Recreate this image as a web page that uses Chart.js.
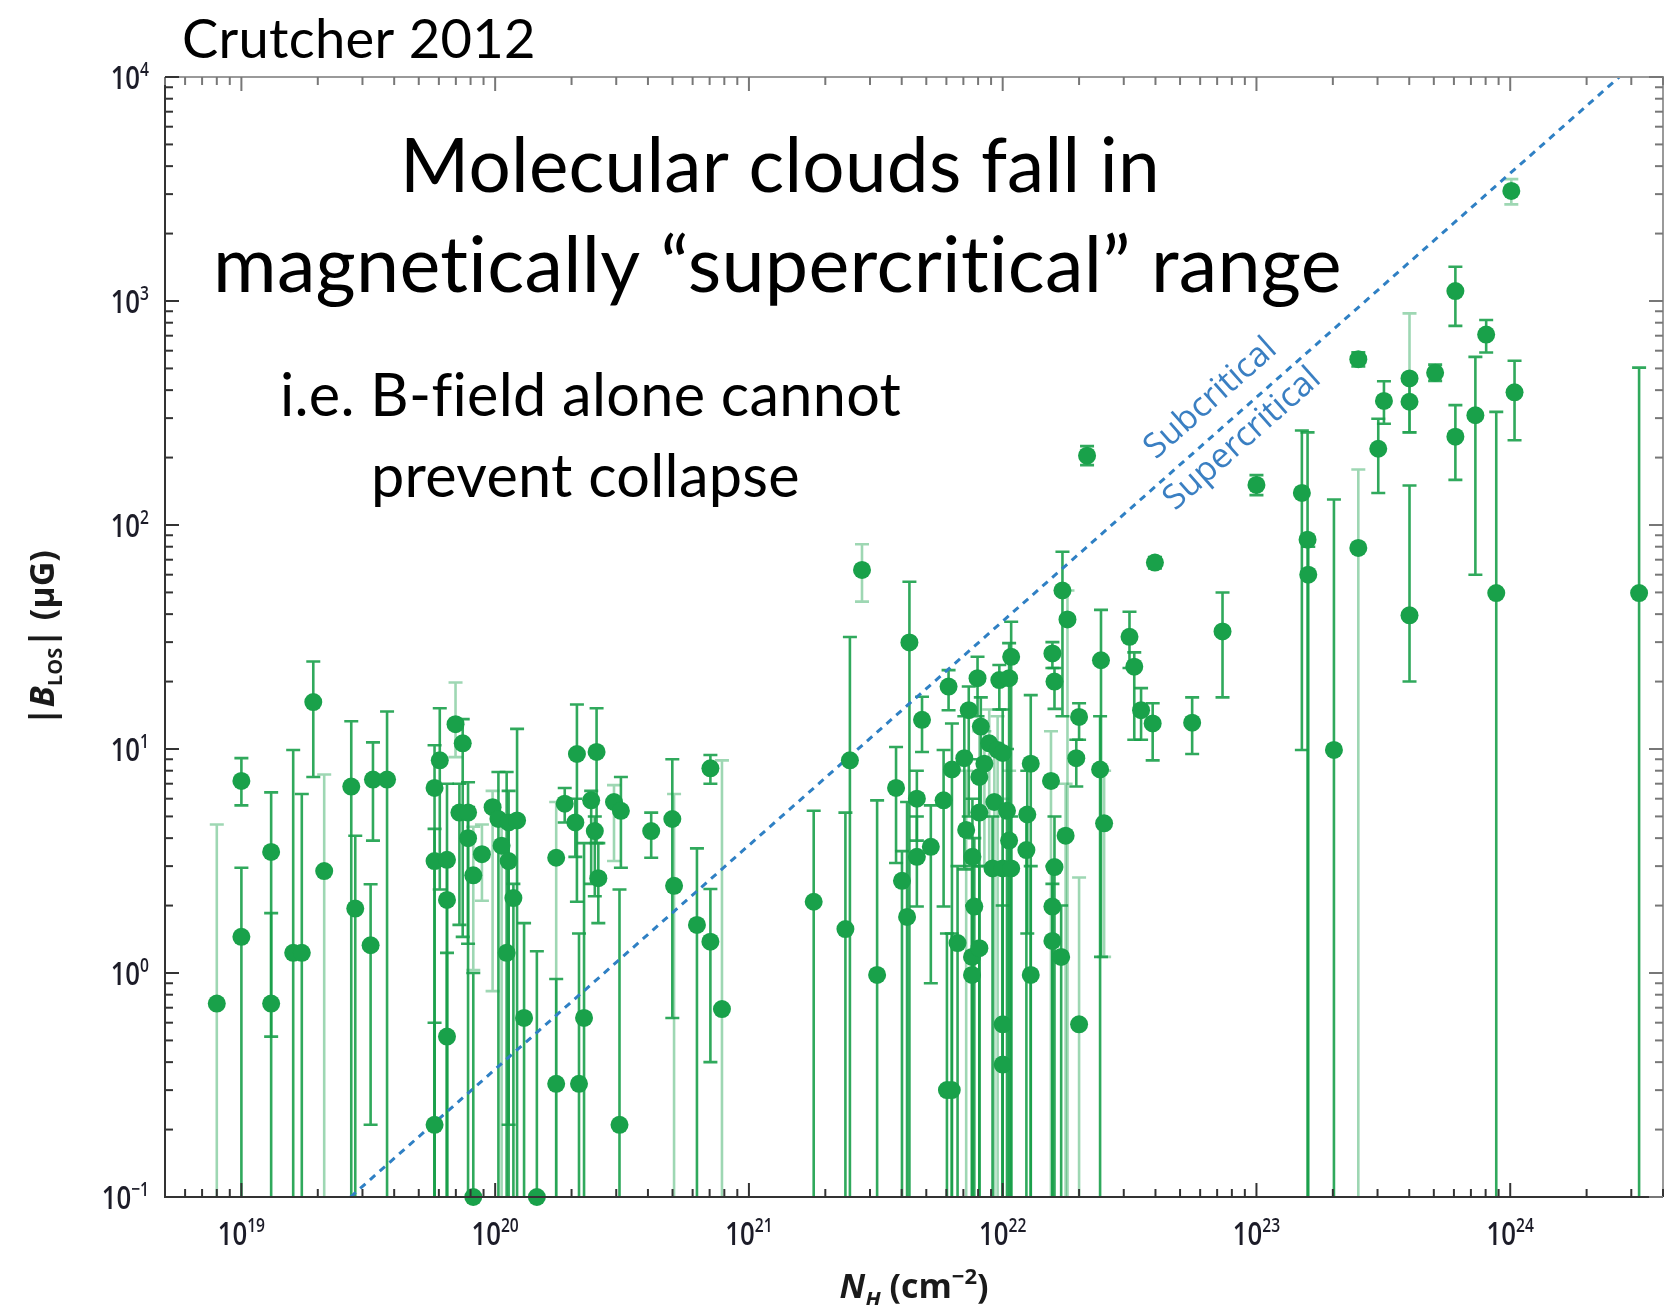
<!DOCTYPE html>
<html>
<head>
<meta charset="utf-8">
<script src="https://cdn.jsdelivr.net/npm/chart.js@4.4.0/dist/chart.umd.min.js"></script>
<style>
  html, body { margin: 0; padding: 0; background: #fff; }
  canvas { display: block; }
</style>
</head>
<body>
<canvas id="fieldChart" width="1673" height="1305"></canvas>
<script>
// Zeeman |B_LOS| against column density N_H, with the critical mass-to-flux line.

// N_H (cm^-2)
const columnDensity = [
  8.0e18, 1.0e19, 1.0e19, 1.31e19, 1.31e19, 1.6e19, 1.73e19, 1.92e19, 2.12e19, 2.71e19,
  2.81e19, 3.30e19, 3.75e19, 3.23e19, 5.77e19, 5.77e19, 6.05e19, 5.77e19, 6.46e19, 6.46e19,
  6.46e19, 6.98e19, 7.45e19, 7.23e19, 7.82e19, 7.82e19, 8.2e19, 8.87e19, 8.2e19, 9.77e19,
  1.03e20, 1.13e20, 1.22e20, 1.06e20, 1.13e20, 1.18e20, 1.11e20, 1.30e20, 1.46e20, 1.74e20,
  1.74e20, 1.88e20, 2.10e20, 2.07e20, 2.14e20, 2.24e20, 2.39e20, 2.47e20, 2.51e20, 2.55e20,
  2.94e20, 3.13e20, 3.09e20, 4.12e20, 4.99e20, 5.07e20, 6.24e20, 7.05e20, 7.05e20, 7.83e20,
  1.80e21, 2.50e21, 2.40e21, 2.79e21, 3.20e21, 4.29e21, 3.80e21, 4.01e21, 4.20e21, 4.59e21,
  4.59e21, 4.81e21, 5.21e21, 5.85e21, 6.12e21, 6.31e21, 6.64e21, 7.06e21, 7.35e21, 7.18e21,
  7.60e21, 7.57e21, 7.57e21, 7.73e21, 8.09e21, 7.96e21, 8.09e21, 8.09e21, 8.20e21, 8.47e21,
  8.85e21, 9.27e21, 9.12e21, 9.70e21, 1.0e22, 9.55e21, 1.0e22, 1.08e22, 1.06e22, 1.04e22,
  1.06e22, 1.08e22, 1.24e22, 1.25e22, 1.29e22, 1.29e22, 1.57e22, 1.60e22, 1.55e22, 1.60e22,
  1.57e22, 1.57e22, 1.70e22, 1.72e22, 1.80e22, 1.77e22, 2.00e22, 1.95e22, 2.00e22, 2.15e22,
  2.44e22, 2.42e22, 2.51e22, 3.16e22, 3.30e22, 3.51e22, 3.90e22, 3.98e22, 5.58e22, 7.35e22,
  1.0e23, 1.51e23, 1.59e23, 1.60e23, 2.02e23, 2.52e23, 2.52e23, 3.02e23, 3.18e23, 4.01e23,
  4.01e23, 4.01e23, 5.06e23, 6.08e23, 6.08e23, 7.29e23, 8.04e23, 8.81e23, 1.04e24, 1.01e24,
  3.22e24, 1.0e22, 1.0e22, 6.03e21, 6.3e21
];
// |B_LOS| (μG)
const fieldLOS = [
  0.73, 7.2, 1.45, 3.47, 0.73, 1.23, 1.23, 16.2, 2.85, 6.8,
  1.94, 7.3, 7.3, 1.33, 0.21, 6.7, 8.9, 3.16, 3.2, 2.12,
  0.52, 12.9, 10.6, 5.2, 5.2, 4.0, 2.73, 3.39, 0.1, 5.5,
  4.87, 4.7, 4.8, 3.7, 3.16, 2.16, 1.23, 0.63, 0.1, 3.27,
  0.32, 5.7, 9.5, 4.7, 0.32, 0.63, 5.9, 4.3, 9.7, 2.65,
  5.8, 5.3, 0.21, 4.3, 4.87, 2.45, 1.64, 8.2, 1.38, 0.69,
  2.08, 8.9, 1.57, 63, 0.98, 29.9, 6.7, 2.58, 1.78, 6.0,
  3.3, 13.5, 3.66, 5.9, 19, 8.1, 1.36, 9.1, 14.9, 4.35,
  3.3, 1.18, 0.98, 1.98, 1.29, 20.7, 7.5, 5.2, 12.6, 8.6,
  10.6, 5.8, 2.93, 20.3, 2.93, 9.9, 9.6, 2.93, 20.7, 5.3,
  3.9, 25.8, 3.54, 5.1, 8.6, 0.98, 26.7, 20, 7.2, 2.97,
  1.98, 1.39, 1.18, 51, 37.9, 4.1, 13.9, 9.1, 0.59, 204,
  24.9, 8.1, 4.66, 31.7, 23.3, 14.9, 13, 68, 13.1, 33.5,
  151, 139, 86, 60, 9.9, 550, 79, 219, 358, 451,
  355, 39.5, 478, 1107, 248, 309, 708, 49.7, 391, 3100,
  49.7, 0.59, 0.39, 0.30, 0.30
];
// lower end of each error bar (μG); 0.01 runs off the bottom of the axis
const fieldLow = [
  0.01, 5.6, 0.01, 0.01, 0.52, 0.01, 0.01, 7.5, 0.01, 0.01,
  0.01, 3.9, 0.01, 0.21, 0.01, 0.01, 2.36, 0.01, 0.01, 0.01,
  0.01, 9.2, 1.45, 1.64, 1.35, 0.01, 1.03, 2.1, 0.01, 0.83,
  0.01, 0.21, 0.01, 0.01, 0.01, 0.01, 0.01, 0.01, 0.01, 0.01,
  0.01, 4.7, 2.08, 3.3, 0.01, 0.01, 2.5, 2.2, 3.8, 1.67,
  3.16, 2.95, 0.01, 3.27, 0.63, 0.01, 0.01, 7.0, 0.40, 0.01,
  0.01, 0.01, 0.01, 45.5, 0.01, 0.01, 3.1, 0.01, 0.01, 3.9,
  1.98, 9.7, 0.9, 1.98, 14.9, 0.01, 0.01, 2.9, 5.0, 0.01,
  0.01, 0.01, 0.01, 0.01, 0.01, 14, 0.01, 0.01, 5, 3,
  3, 0.01, 0.01, 15, 0.01, 0.01, 0.01, 0.01, 0.01, 0.01,
  0.01, 0.01, 0.01, 1.5, 0.01, 0.01, 23, 15.1, 0.01, 0.01,
  0.01, 0.01, 0.01, 14, 0.01, 0.01, 11, 6.8, 0.01, 185,
  1.18, 0.01, 1.18, 23, 11, 11, 8.9, 64, 9.5, 17,
  136, 9.9, 0.01, 0.01, 0.01, 510, 0.01, 139, 283, 259,
  259, 20, 440, 774, 159, 60, 589, 0.01, 239, 2700,
  0.01, 0.01, 0.01, 0.01, 0.01
];
// upper end of each error bar (μG)
const fieldHigh = [
  4.6, 9.1, 2.95, 6.4, 1.85, 9.9, 6.3, 24.6, 7.7, 13.3,
  4.1, 10.7, 14.7, 2.49, 0.6, 10.4, 15.2, 4.4, 7.0, 3.2,
  1.23, 19.8, 13.6, 7.0, 7.1, 5.5, 4.5, 4.6, 1.0, 6.5,
  7.9, 6.5, 12.3, 5.0, 4.5, 2.5, 7.9, 1.67, 1.25, 5.8,
  0.94, 6.7, 15.8, 6.0, 1.5, 3.8, 6.5, 5.0, 15.2, 3.8,
  6.9, 7.5, 2.36, 5.2, 9.0, 6.3, 3.6, 9.4, 2.37, 8.9,
  5.3, 31.6, 5.2, 82, 5.9, 55.8, 10.2, 3.5, 5.8, 8.0,
  5.0, 17.1, 5.6, 9.9, 22.5, 13, 3.0, 14, 19, 8,
  6, 3, 2, 4, 3, 25.8, 12, 9, 17, 12,
  15, 10, 5, 23.7, 6, 14, 15, 5, 29.7, 10,
  8, 37, 5.3, 8, 17.4, 3, 30, 23, 12, 5,
  3, 2.5, 2, 76, 51, 7, 16, 11, 2.67, 225,
  41.8, 14, 8, 41, 27, 18.7, 16, 72, 17, 50,
  167, 264, 259, 80, 130, 590, 177, 298, 438, 881,
  450, 150, 520, 1423, 343, 563, 822, 320, 541, 3500,
  504, 3, 2, 1.5, 1.5
];
// 1 = pale error bar
const faintBar = [
  1, 0, 0, 0, 0, 0, 0, 0, 1, 0,
  0, 0, 0, 0, 0, 0, 0, 0, 0, 0,
  0, 1, 0, 0, 0, 0, 1, 1, 0, 1,
  0, 0, 0, 1, 0, 0, 0, 0, 0, 1,
  0, 0, 0, 0, 0, 0, 0, 0, 0, 0,
  1, 0, 0, 0, 0, 1, 0, 0, 0, 1,
  0, 0, 0, 1, 0, 0, 0, 0, 0, 0,
  0, 0, 0, 0, 0, 0, 0, 0, 0, 1,
  0, 0, 0, 0, 0, 0, 1, 0, 0, 1,
  1, 1, 0, 0, 1, 1, 0, 0, 0, 0,
  1, 0, 0, 0, 0, 0, 0, 0, 1, 0,
  0, 0, 0, 0, 1, 1, 0, 0, 1, 0,
  0, 0, 1, 0, 0, 0, 0, 0, 0, 0,
  0, 0, 0, 0, 0, 0, 1, 0, 0, 1,
  0, 0, 0, 0, 0, 0, 0, 0, 0, 1,
  0, 0, 0, 0, 0
];

// critical B/N line
const criticalN = [2.69e19, 2.69e24];
const criticalB = [0.1, 1e4];

const xTickExp = [19, 20, 21, 22, 23, 24];
const yTickExp = [-1, 0, 1, 2, 3, 4];

const regimeLabels = [
  { text: 'Subcritical', n: 6.6e22, b: 367 },
  { text: 'Supercritical', n: 8.8e22, b: 242 },
];

const DOT = '#19a14a';
const BAR = 'rgba(25,160,74,0.9)';
const BAR_FAINT = 'rgba(25,160,74,0.42)';
const LINE_BLUE = '#2f80c4';
const CAP = 7;

function drawRich(ctx, parts, x, y, align) {
  let w = 0;
  parts.forEach((p) => { ctx.font = p[1]; w += ctx.measureText(p[0]).width; });
  let cx = align === 'center' ? x - w / 2 : align === 'right' ? x - w : x;
  parts.forEach((p) => {
    ctx.font = p[1];
    ctx.fillText(p[0], cx, y + (p[2] || 0));
    cx += ctx.measureText(p[0]).width;
  });
}

function powerLabel(ctx, exp, x, y, align) {
  const e = exp < 0 ? '\u2212' + Math.abs(exp) : String(exp);
  ctx.save();
  ctx.translate(x, y);
  ctx.scale(0.78, 1);
  drawRich(ctx, [['10', '600 33px "Open Sans"'], [e, '600 20px "Open Sans"', -13]], 0, 0, align);
  ctx.restore();
}

function fitSize(ctx, text, family, width) {
  ctx.font = '100px ' + family;
  return 100 * width / ctx.measureText(text).width;
}

const errorBars = {
  id: 'errorBars',
  beforeDatasetsDraw(chart) {
    const { ctx, chartArea: a, scales: { x, y } } = chart;
    ctx.save();
    ctx.beginPath();
    ctx.rect(a.left, a.top, a.right - a.left, a.bottom - a.top);
    ctx.clip();
    ctx.lineWidth = 2.6;
    columnDensity.forEach((n, i) => {
      const px = x.getPixelForValue(n);
      const top = y.getPixelForValue(fieldHigh[i]);
      const open = fieldLow[i] < y.min;
      const bot = open ? a.bottom + 2 : y.getPixelForValue(fieldLow[i]);
      ctx.strokeStyle = faintBar[i] ? BAR_FAINT : BAR;
      ctx.beginPath();
      ctx.moveTo(px, top); ctx.lineTo(px, bot);
      ctx.moveTo(px - CAP, top); ctx.lineTo(px + CAP, top);
      if (!open) { ctx.moveTo(px - CAP, bot); ctx.lineTo(px + CAP, bot); }
      ctx.stroke();
    });
    ctx.restore();
  },
  afterDatasetsDraw(chart) {
    const { ctx, scales: { x, y } } = chart;
    const dx = x.getPixelForValue(criticalN[1]) - x.getPixelForValue(criticalN[0]);
    const dy = y.getPixelForValue(criticalB[1]) - y.getPixelForValue(criticalB[0]);
    const angle = Math.atan2(dy, dx);
    ctx.save();
    ctx.fillStyle = '#3a7fc2';
    ctx.font = '34px "Open Sans"';
    ctx.textAlign = 'center';
    ctx.textBaseline = 'middle';
    regimeLabels.forEach((l) => {
      ctx.save();
      ctx.translate(x.getPixelForValue(l.n), y.getPixelForValue(l.b));
      ctx.rotate(angle);
      ctx.fillText(l.text, 0, 0);
      ctx.restore();
    });
    ctx.restore();
  },
};

const frame = {
  id: 'frame',
  afterDraw(chart) {
    const { ctx, chartArea: a, scales: { x, y } } = chart;
    ctx.save();
    // box: dark left/bottom, grey top/right
    ctx.lineWidth = 2;
    ctx.strokeStyle = '#9a9a9a';
    ctx.beginPath();
    ctx.moveTo(a.left, a.top); ctx.lineTo(a.right, a.top); ctx.lineTo(a.right, a.bottom);
    ctx.stroke();
    ctx.strokeStyle = '#333';
    ctx.beginPath();
    ctx.moveTo(a.left, a.top); ctx.lineTo(a.left, a.bottom); ctx.lineTo(a.right, a.bottom);
    ctx.stroke();

    // inward log ticks on all four sides
    ctx.lineWidth = 2;
    for (let e = 18; e <= 24; e++) {
      for (let k = 1; k <= 9; k++) {
        const v = k * Math.pow(10, e);
        if (v < x.min || v > x.max) continue;
        const px = x.getPixelForValue(v);
        const len = k === 1 ? 14 : 8;
        ctx.strokeStyle = '#333';
        ctx.beginPath(); ctx.moveTo(px, a.bottom); ctx.lineTo(px, a.bottom - len); ctx.stroke();
        ctx.strokeStyle = '#777';
        ctx.beginPath(); ctx.moveTo(px, a.top); ctx.lineTo(px, a.top + len); ctx.stroke();
      }
    }
    for (let e = -1; e <= 4; e++) {
      for (let k = 1; k <= 9; k++) {
        const v = k * Math.pow(10, e);
        if (v < y.min * 0.999 || v > y.max * 1.001) continue;
        const py = y.getPixelForValue(v);
        const len = k === 1 ? 14 : 8;
        ctx.strokeStyle = '#333';
        ctx.beginPath(); ctx.moveTo(a.left, py); ctx.lineTo(a.left + len, py); ctx.stroke();
        ctx.strokeStyle = '#777';
        ctx.beginPath(); ctx.moveTo(a.right, py); ctx.lineTo(a.right - len, py); ctx.stroke();
      }
    }

    // tick labels
    ctx.fillStyle = '#1c1c28';
    ctx.textBaseline = 'alphabetic';
    ctx.textAlign = 'left';
    xTickExp.forEach((e) => powerLabel(ctx, e, x.getPixelForValue(Math.pow(10, e)), a.bottom + 48, 'center'));
    yTickExp.forEach((e) => powerLabel(ctx, e, a.left - 16, y.getPixelForValue(Math.pow(10, e)) + 12, 'right'));

    // axis titles
    ctx.fillStyle = '#1a1a1a';
    const b = 'bold 34px "Open Sans"';
    const bi = 'italic bold 34px "Open Sans"';
    drawRich(ctx, [
      ['N', bi], ['H', 'italic bold 22px "Open Sans"', 9], [' (cm', b], ['\u22122', 'bold 22px "Open Sans"', -14], [')', b],
    ], 914, 1298, 'center');
    ctx.save();
    ctx.translate(54, 638);
    ctx.rotate(-Math.PI / 2);
    drawRich(ctx, [
      ['|', b], ['B', bi], ['LOS', 'bold 20px "Open Sans"', 8], ['| (\u00b5G)', b],
    ], 0, 0, 'center');
    ctx.restore();

    // headline text (ligatures off so "ti" stays two letters)
    ctx.fillStyle = '#000';
    ctx.letterSpacing = '0.3px';
    ctx.textRendering = 'optimizeSpeed';
    const fam = 'Lato, "Open Sans", sans-serif';
    const lines = [
      ['Crutcher 2012', 182, 58, 352],
      ['Molecular clouds fall in', 400, 192, 758],
      ['magnetically \u201csupercritical\u201d range', 213, 292, 1126],
      ['i.e. B-field alone cannot', 280, 416, 618],
      ['prevent collapse', 371, 497, 427],
    ];
    lines.forEach(([t, lx, ly, w]) => {
      ctx.font = fitSize(ctx, t, fam, w).toFixed(1) + 'px ' + fam;
      ctx.fillText(t, lx, ly);
    });
    ctx.restore();
  },
};

new Chart(document.getElementById('fieldChart'), {
  type: 'scatter',
  data: {
    datasets: [
      {
        data: columnDensity.map((n, i) => ({ x: n, y: fieldLOS[i] })),
        backgroundColor: DOT,
        borderWidth: 0,
        pointRadius: 9,
        pointHoverRadius: 9,
        clip: 12,
        order: 0,
      },
      {
        type: 'line',
        data: criticalN.map((n, i) => ({ x: n, y: criticalB[i] })),
        borderColor: LINE_BLUE,
        borderWidth: 3,
        borderDash: [7, 6],
        pointRadius: 0,
        fill: false,
        order: 1,
      },
    ],
  },
  options: {
    responsive: false,
    animation: false,
    devicePixelRatio: 1,
    layout: { padding: { left: 165, top: 77, right: 10, bottom: 108 } },
    plugins: { legend: { display: false }, tooltip: { enabled: false } },
    scales: {
      x: { type: 'logarithmic', min: 5e18, max: 4e24, display: false },
      y: { type: 'logarithmic', min: 0.1, max: 1e4, display: false },
    },
  },
  plugins: [errorBars, frame],
});
</script>
</body>
</html>
